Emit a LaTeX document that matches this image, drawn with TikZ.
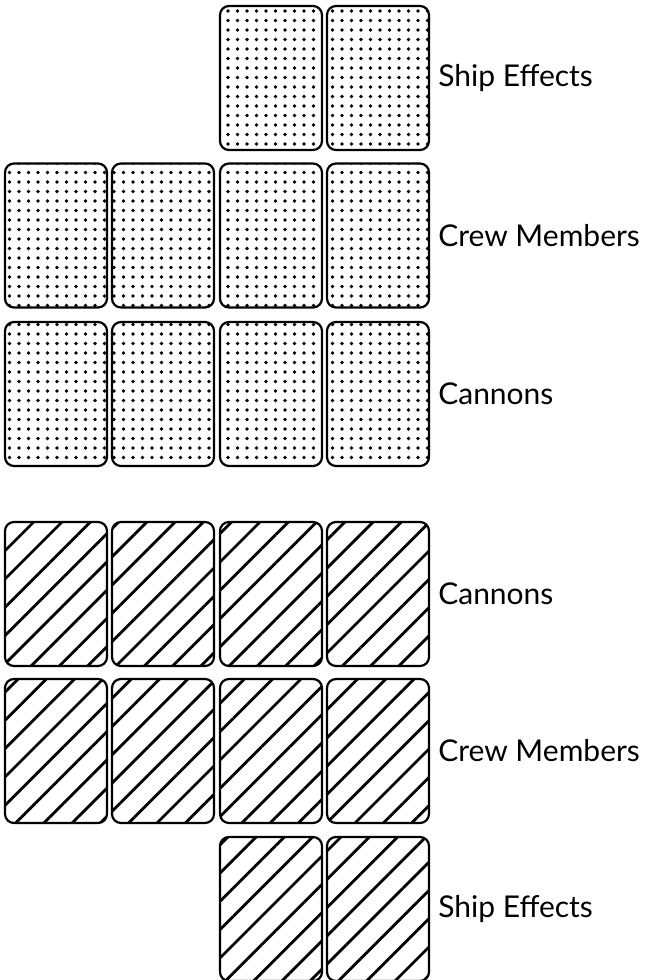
\documentclass[tikz,border=0pt]{standalone}
\usepackage{fontspec}
\setmainfont{Lato}
\usetikzlibrary{patterns.meta}

\begin{document}
\begin{tikzpicture}[x=1pt, y=-1pt,
                    card/.style={draw, line width=2.2pt, rounded corners=9pt, minimum width=102pt, minimum height=144pt, inner sep=0pt},
                    dotted card/.style={card, pattern={Dots[distance=9.5pt, radius=1.9pt]}},
                    hatched card/.style={card, pattern={Lines[angle=45, distance=20pt, line width=2.8pt]}},
                    label/.style={anchor=west, font=\fontsize{30}{34}\selectfont, inner sep=0pt}
                ]
                \useasboundingbox (0,0) rectangle (655,980);

                % Ship effects (dotted)
                \node[dotted card] (se1) at (271,78) {};
                \node[dotted card] (se2) at (378,78) {};
                \node[label] (seLabel) at ([xshift=8pt]se2.east) {Ship Effects};

                % Crew members (dotted)
                \node[dotted card] (cm1) at (56,235.5) {};
                \node[dotted card] (cm2) at (163,235.5) {};
                \node[dotted card] (cm3) at (271,235.5) {};
                \node[dotted card] (cm4) at (378,235.5) {};
                \node[label] (cmLabel) at ([xshift=8pt]cm4.east) {Crew Members};

                % Cannons (dotted)
                \node[dotted card] (ca1) at (56,394) {};
                \node[dotted card] (ca2) at (163,394) {};
                \node[dotted card] (ca3) at (271,394) {};
                \node[dotted card] (ca4) at (378,394) {};
                \node[label] (caLabel) at ([xshift=8pt]ca4.east) {Cannons};

                % Cannons (hatched)
                \node[hatched card] (hca1) at (56,594) {};
                \node[hatched card] (hca2) at (163,594) {};
                \node[hatched card] (hca3) at (271,594) {};
                \node[hatched card] (hca4) at (378,594) {};
                \node[label] (hcaLabel) at ([xshift=8pt]hca4.east) {Cannons};

                % Crew members (hatched)
                \node[hatched card] (hcm1) at (56,751) {};
                \node[hatched card] (hcm2) at (163,751) {};
                \node[hatched card] (hcm3) at (271,751) {};
                \node[hatched card] (hcm4) at (378,751) {};
                \node[label] (hcmLabel) at ([xshift=8pt]hcm4.east) {Crew Members};

                % Ship effects (hatched)
                \node[hatched card] (hse1) at (271,909) {};
                \node[hatched card] (hse2) at (378,909) {};
                \node[label] (hseLabel) at ([xshift=8pt]hse2.east) {Ship Effects};

            \end{tikzpicture}
\end{document}
